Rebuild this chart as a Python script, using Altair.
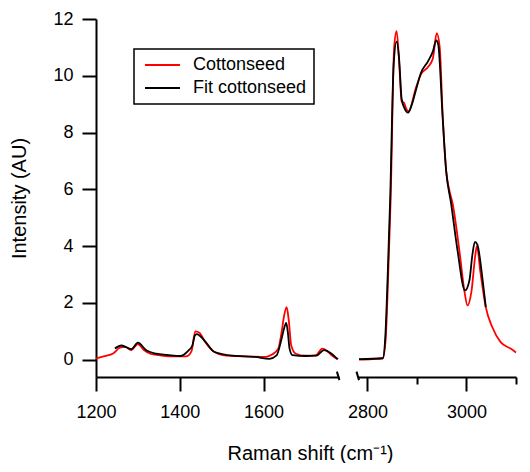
import altair as alt
import pandas as pd

# ---- data ----
series_names = ["Cottonseed", "Fit cottonseed"]
series_colors = ["#ff0000", "#000000"]

red_left_x = [1200, 1218, 1241, 1257, 1270, 1284, 1300, 1313, 1331, 1350, 1374, 1400, 1416, 1428,
              1437, 1447, 1459, 1479, 1511, 1566, 1606, 1620, 1635, 1643, 1649, 1655, 1660, 1666,
              1677, 1700, 1724, 1740, 1752, 1764, 1778]
red_left_y = [0.04, 0.12, 0.22, 0.42, 0.45, 0.34, 0.55, 0.36, 0.20, 0.16, 0.12, 0.12, 0.12, 0.30,
              1.00, 0.95, 0.66, 0.31, 0.14, 0.11, 0.10, 0.18, 0.39, 0.97, 1.55, 1.85, 1.40, 0.50,
              0.21, 0.14, 0.15, 0.39, 0.30, 0.14, 0.02]

fit_left_x = [1245, 1261, 1284, 1300, 1320, 1344, 1370, 1401, 1421, 1430, 1436, 1441, 1451, 1463,
              1483, 1527, 1580, 1614, 1631, 1643, 1648, 1654, 1658, 1662, 1669, 1700, 1726, 1744,
              1764, 1776]
fit_left_y = [0.39, 0.50, 0.37, 0.60, 0.33, 0.21, 0.17, 0.13, 0.33, 0.50, 0.85, 0.90, 0.80, 0.60,
              0.27, 0.14, 0.10, 0.03, 0.15, 0.74, 1.05, 1.30, 0.95, 0.39, 0.16, 0.13, 0.14, 0.34,
              0.19, 0.02]

red_right_x = [2783, 2810, 2831, 2837, 2842, 2847, 2854, 2859, 2865, 2869, 2874, 2878, 2883, 2898,
               2908, 2922, 2932, 2940, 2946, 2952, 2959, 2965, 2972, 2986, 2996, 3002, 3010, 3018,
               3021, 3028, 3039, 3052, 3069, 3089, 3100]
red_right_y = [0.00, 0.02, 0.05, 0.77, 3.00, 5.70, 11.00, 11.57, 10.20, 9.10, 9.05, 8.85, 8.75, 9.58,
               10.05, 10.30, 10.60, 11.50, 11.00, 8.60, 6.65, 6.00, 5.50, 3.80, 2.40, 1.91, 2.40, 3.70,
               4.00, 3.10, 1.85, 1.15, 0.62, 0.39, 0.25]

fit_right_x = [2783, 2831, 2836, 2841, 2846, 2853, 2859, 2864, 2869, 2875, 2882, 2890, 2898, 2908,
               2922, 2932, 2939, 2943, 2952, 2959, 2969, 2982, 2997, 3006, 3012, 3017, 3022, 3033,
               3039]
fit_right_y = [0.02, 0.05, 0.77, 3.00, 5.70, 10.40, 11.20, 10.60, 9.20, 8.85, 8.70, 9.00, 9.50, 10.10,
               10.50, 10.85, 11.25, 11.10, 8.50, 6.65, 5.50, 3.84, 2.44, 2.80, 3.70, 4.15, 4.05, 2.75,
               1.85]

left_ticks = [1200, 1400, 1600]
right_ticks = [2800, 2850, 2900, 2950, 3000, 3050, 3100]
y_ticks = [0, 2, 4, 6, 8, 10, 12]


def frame(xs, ys, name):
    return pd.DataFrame({"shift": xs, "intensity": ys, "series": name})


left_df = pd.concat([frame(red_left_x, red_left_y, series_names[0]),
                     frame(fit_left_x, fit_left_y, series_names[1])], ignore_index=True)
right_df = pd.concat([frame(red_right_x, red_right_y, series_names[0]),
                      frame(fit_right_x, fit_right_y, series_names[1])], ignore_index=True)

FONT = "Liberation Sans"
y_scale = alt.Scale(domain=[-0.61, 12], nice=False, zero=False)
color_scale = alt.Scale(domain=series_names, range=series_colors)
left_xscale = alt.Scale(domain=[1200, 1780], nice=False, zero=False)
right_xscale = alt.Scale(domain=[2781, 3100], nice=False, zero=False)

axis_style = dict(domainColor="black", domainWidth=2, tickColor="black", tickWidth=2,
                  labelFont=FONT, labelFontSize=18, labelColor="black", labelFlush=False,
                  titleFont=FONT, titleFontWeight="normal", titleColor="black", grid=False)

left_lines = alt.Chart(left_df).mark_line(strokeWidth=1.8, interpolate="monotone").encode(
    x=alt.X("shift:Q", scale=left_xscale,
            axis=alt.Axis(values=left_ticks, tickSize=14, labelPadding=12, format="d",
                          title="Raman shift (cm⁻¹)", titleFontSize=20, titleX=214, titleY=66,
                          **axis_style)),
    y=alt.Y("intensity:Q", scale=y_scale,
            axis=alt.Axis(values=y_ticks, tickSize=14, labelPadding=9, title="Intensity (AU)",
                          titleFontSize=20, titlePadding=23, **axis_style)),
    color=alt.Color("series:N", scale=color_scale,
                    legend=alt.Legend(title=None, orient="none", legendX=38, legendY=30,
                                      strokeColor="black", fillColor="white",
                                      padding=7, symbolType="M-1,0H6", symbolSize=100,
                                      symbolStrokeWidth=1.8, labelFont=FONT, labelFontSize=18,
                                      labelColor="black", labelOffset=34, rowPadding=5,
                                      labelExpr="datum.label + '  '")),
)

left_break = alt.Chart(alt.Data(values=[{}])).mark_rule(color="black", strokeWidth=2).encode(
    x=alt.datum(1775), x2=alt.datum(1781), y=alt.datum(-0.42), y2=alt.datum(-0.72))

right_lines = alt.Chart(right_df).mark_line(strokeWidth=1.8, interpolate="monotone").encode(
    x=alt.X("shift:Q", scale=right_xscale,
            axis=alt.Axis(values=right_ticks, format="d",
                          tickSize={"condition": {"test": "datum.value % 200 === 0", "value": 14},
                                    "value": 7},
                          labelPadding=12,
                          labelExpr="datum.value % 200 === 0 ? datum.label : ''",
                          title=None, **axis_style)),
    y=alt.Y("intensity:Q", scale=y_scale, axis=None),
    color=alt.Color("series:N", scale=color_scale, legend=None),
)

right_break = alt.Chart(alt.Data(values=[{}])).mark_rule(color="black", strokeWidth=2).encode(
    x=alt.datum(2778), x2=alt.datum(2783), y=alt.datum(-0.42), y2=alt.datum(-0.72))

left = alt.layer(left_lines, left_break).properties(width=243, height=358)
right = alt.layer(right_lines, right_break).properties(width=158, height=358)

chart = alt.hconcat(left, right, spacing=19, bounds="flush").resolve_scale(
    x="independent", y="independent", color="independent"
).properties(
    padding={"left": 1, "top": 2, "right": 0, "bottom": 0}
).configure_view(stroke=None).configure_legend(strokeWidth=1.5)

chart.save("out.html", embed_options={"renderer": "svg", "actions": False})
